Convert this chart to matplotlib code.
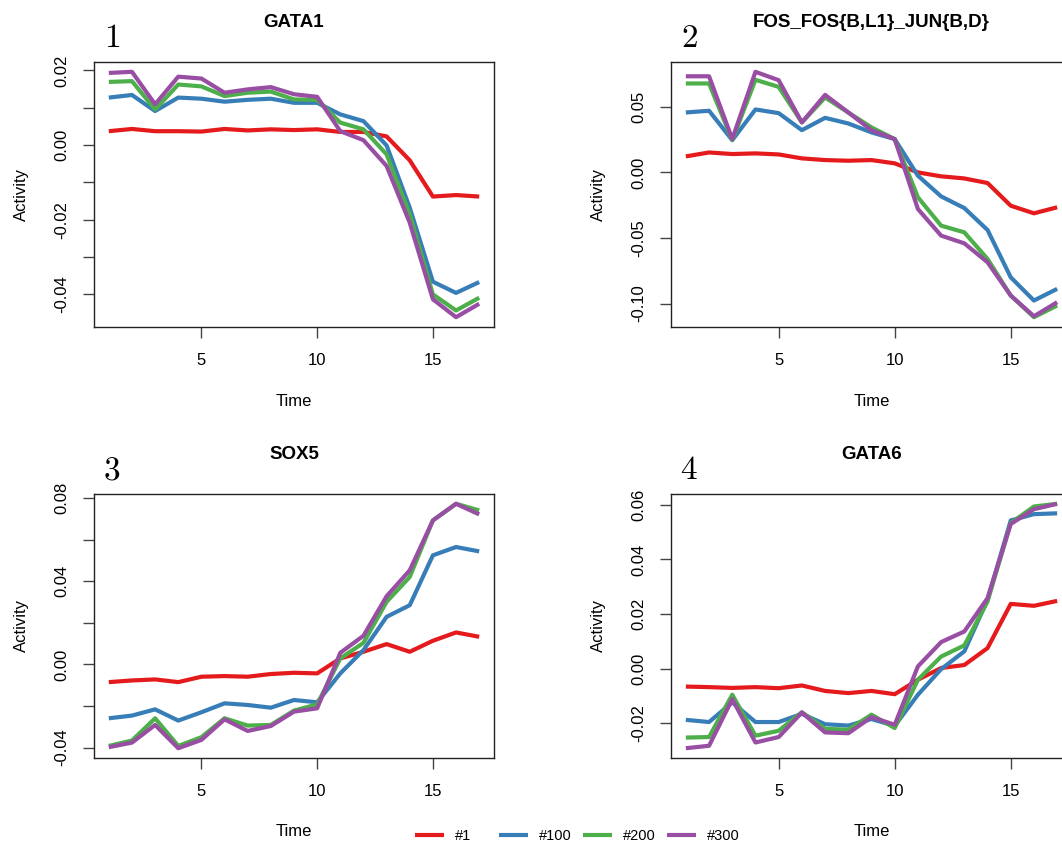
import numpy as np
import matplotlib.pyplot as plt

plt.rcParams["font.family"] = ["Liberation Sans", "DejaVu Sans"]
plt.rcParams["axes.unicode_minus"] = False

time = np.arange(1, 18)
series_names = ["#1", "#100", "#200", "#300"]
colors = ["#E41A1C", "#377EB8", "#4DAF4A", "#984EA3"]

# GATA1
gata1_1 = [0.0037, 0.0043, 0.0037, 0.0037, 0.0036, 0.0043, 0.0039, 0.0042, 0.0040,
           0.0042, 0.0035, 0.0035, 0.0023, -0.0041, -0.0138, -0.0134, -0.0138]
gata1_100 = [0.0127, 0.0134, 0.0091, 0.0127, 0.0124, 0.0116, 0.0121, 0.0124, 0.0113,
             0.0113, 0.0082, 0.0064, -0.0001, -0.0168, -0.0366, -0.0396, -0.0367]
gata1_200 = [0.0169, 0.0171, 0.0095, 0.0162, 0.0157, 0.0131, 0.0140, 0.0143, 0.0122,
             0.0121, 0.0060, 0.0042, -0.0025, -0.0186, -0.0400, -0.0443, -0.0409]
gata1_300 = [0.0193, 0.0196, 0.0109, 0.0183, 0.0178, 0.0140, 0.0149, 0.0155, 0.0136,
             0.0129, 0.0037, 0.0013, -0.0056, -0.0208, -0.0413, -0.0461, -0.0425]

# FOS_FOS{B,L1}_JUN{B,D}
fos_1 = [0.0122, 0.0152, 0.0140, 0.0145, 0.0137, 0.0107, 0.0094, 0.0089, 0.0094,
         0.0069, 0.0000, -0.0030, -0.0046, -0.0081, -0.0254, -0.0312, -0.0266]
fos_100 = [0.0457, 0.0470, 0.0246, 0.0480, 0.0452, 0.0322, 0.0416, 0.0373, 0.0305,
           0.0254, -0.0025, -0.0183, -0.0272, -0.0439, -0.0800, -0.0977, -0.0888]
fos_200 = [0.0678, 0.0678, 0.0246, 0.0706, 0.0652, 0.0381, 0.0571, 0.0457, 0.0343,
           0.0254, -0.0190, -0.0406, -0.0457, -0.0660, -0.0939, -0.1104, -0.1015]
fos_300 = [0.0733, 0.0733, 0.0254, 0.0767, 0.0703, 0.0381, 0.0591, 0.0457, 0.0322,
           0.0254, -0.0279, -0.0482, -0.0541, -0.0685, -0.0939, -0.1097, -0.0990]

# SOX5
sox5_1 = [-0.0085, -0.0077, -0.0072, -0.0085, -0.0059, -0.0056, -0.0059, -0.0046, -0.0040,
          -0.0043, 0.0029, 0.0061, 0.0098, 0.0061, 0.0114, 0.0154, 0.0133]
sox5_100 = [-0.0259, -0.0246, -0.0216, -0.0270, -0.0230, -0.0187, -0.0195, -0.0208, -0.0171,
            -0.0182, -0.0043, 0.0069, 0.0229, 0.0285, 0.0525, 0.0565, 0.0544]
sox5_200 = [-0.0392, -0.0366, -0.0259, -0.0392, -0.0350, -0.0259, -0.0294, -0.0291, -0.0222,
            -0.0192, 0.0029, 0.0104, 0.0301, 0.0421, 0.0693, 0.0773, 0.0741]
sox5_300 = [-0.0398, -0.0376, -0.0291, -0.0403, -0.0363, -0.0264, -0.0320, -0.0296, -0.0227,
            -0.0211, 0.0056, 0.0138, 0.0328, 0.0453, 0.0693, 0.0773, 0.0722]

# GATA6
gata6_1 = [-0.0066, -0.0068, -0.0071, -0.0068, -0.0072, -0.0062, -0.0082, -0.0090, -0.0082,
           -0.0094, -0.0041, 0.0002, 0.0013, 0.0075, 0.0237, 0.0230, 0.0248]
gata6_100 = [-0.0188, -0.0196, -0.0124, -0.0196, -0.0196, -0.0166, -0.0204, -0.0209, -0.0185,
             -0.0210, -0.0096, -0.0002, 0.0063, 0.0252, 0.0543, 0.0566, 0.0569]
gata6_200 = [-0.0253, -0.0251, -0.0096, -0.0246, -0.0228, -0.0160, -0.0221, -0.0224, -0.0169,
             -0.0218, -0.0041, 0.0044, 0.0085, 0.0246, 0.0533, 0.0594, 0.0604]
gata6_300 = [-0.0292, -0.0283, -0.0112, -0.0271, -0.0251, -0.0161, -0.0234, -0.0237, -0.0178,
             -0.0206, 0.0008, 0.0097, 0.0136, 0.0258, 0.0530, 0.0584, 0.0604]

titles = ["GATA1", "FOS_FOS{B,L1}_JUN{B,D}", "SOX5", "GATA6"]
panel_data = [
    [gata1_1, gata1_100, gata1_200, gata1_300],
    [fos_1, fos_100, fos_200, fos_300],
    [sox5_1, sox5_100, sox5_200, sox5_300],
    [gata6_1, gata6_100, gata6_200, gata6_300],
]
y_ticks = [
    [-0.04, -0.03, -0.02, -0.01, 0.0, 0.01, 0.02],
    [-0.10, -0.05, 0.0, 0.05],
    [-0.04, -0.02, 0.0, 0.02, 0.04, 0.06, 0.08],
    [-0.02, 0.0, 0.02, 0.04, 0.06],
]
y_tick_every = [2, 1, 2, 1]

W, H = 1062, 844


def box(left, top, right, bottom):
    return [left / W, 1 - bottom / H, (right - left) / W, (bottom - top) / H]


boxes = [
    box(94, 62, 494, 327),
    box(671, 62, 1072, 327),
    box(94, 494, 494, 758),
    box(671, 494, 1072, 758),
]

fig = plt.figure(figsize=(W / 100, H / 100), dpi=100)

lines = []
for i in range(4):
    ax = fig.add_axes(boxes[i])
    for vals, c in zip(panel_data[i], colors):
        (ln,) = ax.plot(time, vals, color=c, lw=3, solid_capstyle="butt")
        if i == 0:
            lines.append(ln)
    ax.margins(x=0.04, y=0.04)
    ax.set_xticks([5, 10, 15])
    ticks = y_ticks[i]
    labels = []
    for k, t in enumerate(ticks):
        idx_from_top = len(ticks) - 1 - k
        if idx_from_top % y_tick_every[i] == 0:
            labels.append(f"{t:.2f}".replace("-0.00", "0.00"))
        else:
            labels.append("")
    ax.set_yticks(ticks, labels=labels)
    for lbl in ax.get_yticklabels():
        lbl.set_rotation(90)
        lbl.set_va("center")
    ax.tick_params(axis="both", length=8, width=1, color="#444444", labelsize=12)
    ax.tick_params(axis="x", pad=11)
    ax.tick_params(axis="y", pad=9.5)
    for s in ax.spines.values():
        s.set_linewidth(1)
        s.set_color("#222222")
    ax.set_title(titles[i], fontsize=13.5, fontweight="bold", pad=25)
    ax.set_xlabel("Time", fontsize=12, va="center")
    ax.set_ylabel("Activity", fontsize=12, va="center")
    h_px = boxes[i][3] * H
    w_px = boxes[i][2] * W
    ax.xaxis.set_label_coords(0.5, -74 / h_px)
    ax.yaxis.set_label_coords(-73 / w_px, 0.5)
    ax.text(18 / w_px, 1 + 15 / h_px, rf"${i + 1}$", transform=ax.transAxes,
            ha="center", va="baseline", fontsize=24, math_fontfamily="cm")

for k, (ln, name) in enumerate(zip(lines, series_names)):
    fig.legend([ln], [name], loc="center left", frameon=False, fontsize=10.5,
               handlelength=2.0, handletextpad=0.75, borderpad=0, borderaxespad=0,
               bbox_to_anchor=((415 + 84 * k) / W, 1 - 836 / H))

fig.savefig("out.png", dpi=100)
